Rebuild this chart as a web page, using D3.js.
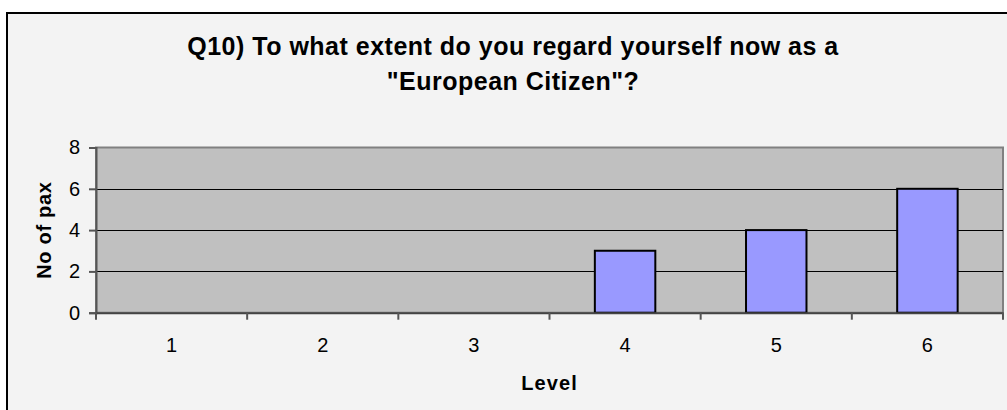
<!DOCTYPE html>
<html><head><meta charset="utf-8">
<script src="https://cdn.jsdelivr.net/npm/d3@7"></script>
<style>
html,body{margin:0;padding:0;background:#fff;}
svg{display:block;font-family:"Liberation Sans",Arial,sans-serif;}
</style></head>
<body>
<svg id="c" width="1007" height="410"></svg>
<script>
const categories = ["1","2","3","4","5","6"];
const values = [0,0,0,3,4,6];
const yTicks = [0,2,4,6,8];
const titleLines = ["Q10) To what extent do you regard yourself now as a", "\"European Citizen\"?"];
const xTitle = "Level";
const yTitle = "No of pax";

const svg = d3.select("#c");
const plot = {left:96, right:1003, top:147.5, bottom:312.7};

// chart background + border
svg.append("rect").attr("x",7).attr("y",13).attr("width",1030).attr("height",420)
  .attr("fill","#f3f3f3").attr("stroke","#000").attr("stroke-width",2);

const x = d3.scaleBand().domain(categories).range([plot.left, plot.right]).paddingInner(0.6).paddingOuter(0.3);
const xb = d3.scaleBand().domain(categories).range([plot.left, plot.right]);
const y = d3.scaleLinear().domain([0,8]).range([plot.bottom, plot.top]);

// plot area
svg.append("rect").attr("x",plot.left).attr("y",plot.top)
  .attr("width",plot.right-plot.left).attr("height",plot.bottom-plot.top)
  .attr("fill","#c0c0c0").attr("stroke","#808080").attr("stroke-width",2);

// gridlines
svg.append("g").selectAll("line").data(yTicks.filter(d=>d>0 && d<8)).join("line")
  .attr("x1",plot.left).attr("x2",plot.right)
  .attr("y1",d=>Math.round(y(d))+0.5).attr("y2",d=>Math.round(y(d))+0.5)
  .attr("stroke","#000").attr("stroke-width",1);

// bars
svg.append("g").selectAll("rect").data(values.map((v,i)=>({c:categories[i],v})).filter(d=>d.v>0)).join("rect")
  .attr("x",d=>x(d.c)).attr("width",x.bandwidth())
  .attr("y",d=>y(d.v)).attr("height",d=>y(0)-y(d.v))
  .attr("fill","#9999ff").attr("stroke","#000").attr("stroke-width",2);

// y axis
const yAxis = svg.append("g").attr("transform",`translate(${plot.left},0)`)
  .call(d3.axisLeft(y).tickValues(yTicks).tickSize(7).tickPadding(9).tickFormat(d3.format("d")));
yAxis.select(".domain").attr("stroke","#555").attr("stroke-width",2);
yAxis.selectAll(".tick line").attr("stroke","#555").attr("stroke-width",2);
yAxis.selectAll("text").attr("font-size",20).attr("fill","#000").attr("font-family","Liberation Sans, Arial, sans-serif");

// x axis
const xAxis = svg.append("g").attr("transform",`translate(0,${plot.bottom})`)
  .call(d3.axisBottom(xb).tickSize(0).tickPadding(25));
xAxis.select(".domain").attr("stroke","#444").attr("stroke-width",2);
xAxis.selectAll("text").attr("font-size",20).attr("fill","#000").attr("font-family","Liberation Sans, Arial, sans-serif");
// category boundary ticks
svg.append("g").selectAll("line").data(d3.range(categories.length+1)).join("line")
  .attr("x1",i=>plot.left + i*xb.step()).attr("x2",i=>plot.left + i*xb.step())
  .attr("y1",plot.bottom).attr("y2",plot.bottom+7)
  .attr("stroke","#555").attr("stroke-width",2);

// title
const t = svg.append("text").attr("text-anchor","middle").attr("font-weight","bold")
  .attr("font-size",25).attr("letter-spacing",0.5).attr("fill","#000");
titleLines.forEach((l,i)=>t.append("tspan").attr("x",513).attr("y",54.5+i*35).text(l));

// axis titles
svg.append("text").attr("x",(plot.left+plot.right)/2).attr("y",390).attr("text-anchor","middle")
  .attr("font-weight","bold").attr("font-size",20).attr("letter-spacing",1.1).text(xTitle);
svg.append("text").attr("transform",`translate(50.5,${(plot.top+plot.bottom)/2}) rotate(-90)`)
  .attr("text-anchor","middle").attr("font-weight","bold").attr("font-size",20).attr("letter-spacing",0.7).text(yTitle);
</script>
</body></html>
